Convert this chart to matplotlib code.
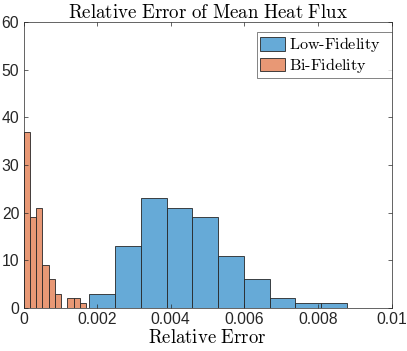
import matplotlib
matplotlib.use("Agg")
import matplotlib.pyplot as plt
import numpy as np

# Low-fidelity histogram
lf_start = 0.00179
lf_width = 0.0007
lf_counts = [3, 13, 23, 21, 19, 11, 6, 2, 1, 1]

# Bi-fidelity histogram
bf_start = 0.0
bf_width = 0.00017
bf_counts = [37, 19, 21, 9, 6, 3, 0, 2, 2, 1]

plt.rcParams['mathtext.fontset'] = 'cm'
plt.rcParams['font.family'] = ['Liberation Sans', 'DejaVu Sans']

fig = plt.figure(figsize=(4.07, 3.51), dpi=100)
ax = fig.add_axes([23.5/407, 43/351, (391.5-23.5)/407, (308-22)/351])

blue = (0.4, 0.668, 0.845)
orange = (0.91, 0.595, 0.459)
edge = (0.15, 0.15, 0.15)

lf_edges = lf_start + lf_width*np.arange(len(lf_counts))
bf_edges = bf_start + bf_width*np.arange(len(bf_counts))

ax.bar(lf_edges, lf_counts, width=lf_width, align='edge', color=blue,
       edgecolor=edge, linewidth=0.6, label=r'$\mathrm{Low\text{-}Fidelity}$')
ax.bar(bf_edges, bf_counts, width=bf_width, align='edge', color=orange,
       edgecolor=edge, linewidth=0.6, label=r'$\mathrm{Bi\text{-}Fidelity}$')

ax.set_xlim(0, 0.01)
ax.set_ylim(0, 60)
ax.set_xticks([0, 0.002, 0.004, 0.006, 0.008, 0.01])
ax.set_xticklabels(['0', '0.002', '0.004', '0.006', '0.008', '0.01'])
ax.set_yticks(range(0, 61, 10))
ax.tick_params(direction='in', top=True, right=True, labelsize=11.3,
               color=(0.15, 0.15, 0.15), labelcolor=(0.15, 0.15, 0.15),
               length=3, width=0.5, pad=3)
for s in ax.spines.values():
    s.set_color((0.15, 0.15, 0.15))
    s.set_linewidth(0.5)

ax.set_title(r'$\mathrm{Relative\ Error\ of\ Mean\ Heat\ Flux}$', fontsize=13.6, pad=3)
ax.set_xlabel(r'$\mathrm{Relative\ Error}$', fontsize=13.5, labelpad=1)

leg = ax.legend(loc='upper right', bbox_to_anchor=(0.634, 0.0, 0.366, 0.966),
                mode='expand', fontsize=11.6, frameon=True, fancybox=False,
                edgecolor=(0.15, 0.15, 0.15), borderpad=0.22, handlelength=1.55,
                handleheight=0.92, handletextpad=0.2, labelspacing=0.1,
                borderaxespad=0.0)
leg.get_frame().set_linewidth(0.5)

fig.savefig('out.png', dpi=100)
